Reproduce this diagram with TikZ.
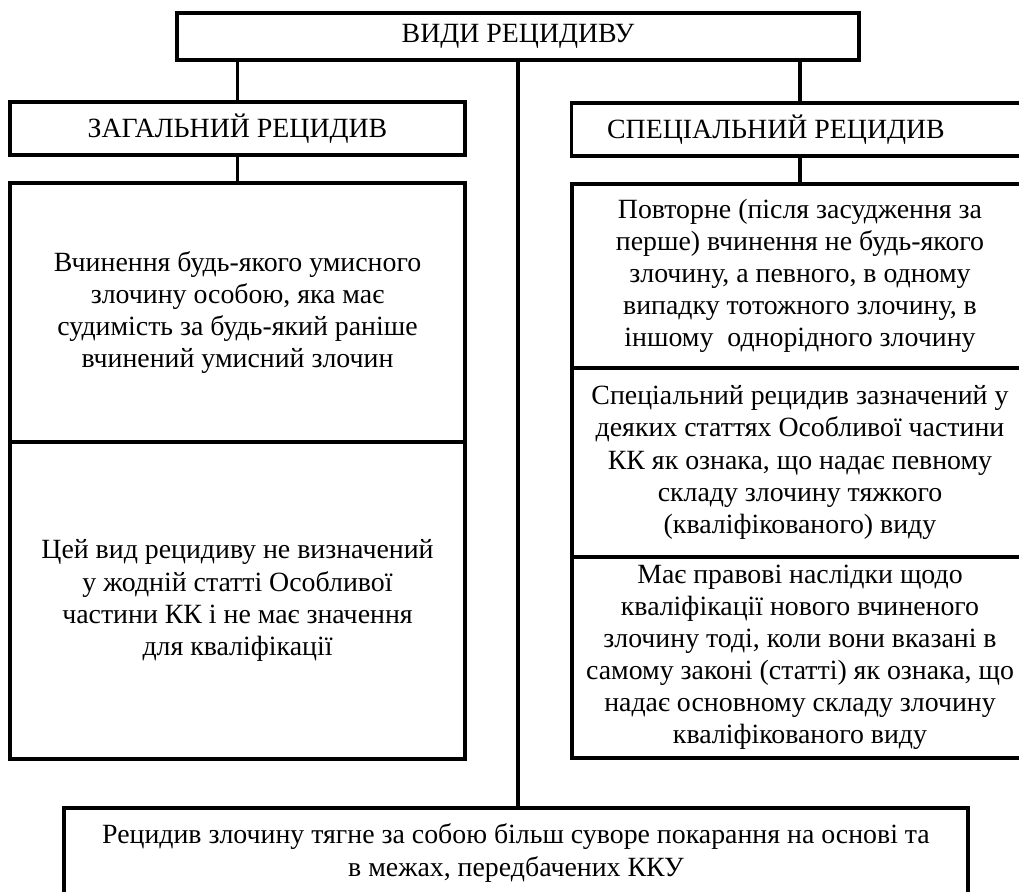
\documentclass[tikz,border=0pt]{standalone}
\usepackage{fontspec}
\setmainfont{Liberation Serif}
\usetikzlibrary{positioning}

\begin{document}
\begin{tikzpicture}[x=0.025cm,y=-0.025cm,
    box/.style={draw,line width=2.4pt,rectangle,inner sep=0pt,outer sep=0pt,align=center,font=\fontsize{19.8}{22.8}\selectfont},
    link/.style={line width=2.4pt}]
          \useasboundingbox (0,0) rectangle (1019,892);
          \clip (0,0) rectangle (1019,892);
          % header row
          \node [box,minimum width=17.05cm,minimum height=1.175cm] (vid) at (518,36.5) {ВИДИ РЕЦИДИВУ};
          \node [box,minimum width=11.375cm,minimum height=1.325cm] (zag) at (237.5,128.5) {ЗАГАЛЬНИЙ РЕЦИДИВ};
          \node [box,minimum width=11.425cm,minimum height=1.325cm] (spec) at (800,129.5) {СПЕЦІАЛЬНИЙ РЕЦИДИВ\hspace*{1.2cm}};
          % left column
          \node [box,minimum width=11.375cm,minimum height=6.475cm] (zagA) at (237.5,312.5) {Вчинення будь-якого умисного\\злочину особою, яка має\\судимість за будь-який раніше\\вчинений умисний злочин};
          \node [box,minimum width=11.375cm,minimum height=7.925cm] (zagB) at (237.5,600.5) {Цей вид рецидиву не визначений\\у жодній статті Особливої\\частини КК і не має значення\\для кваліфікації};
          % right column
          \node [box,minimum width=11.4cm,minimum height=4.6cm] (specA) at (800,276) {Повторне (після засудження за\\перше) вчинення не будь-якого\\злочину, а певного, в одному\\випадку тотожного злочину, в\\іншому\ \ однорідного злочину};
          \node [box,minimum width=11.4cm,minimum height=4.725cm] (specB) at (800,462.5) {Спеціальний рецидив зазначений у\\деяких статтях Особливої частини\\КК як ознака, що надає певному\\складу злочину тяжкого\\(кваліфікованого) виду};
          \node [box,minimum width=11.4cm,minimum height=5.025cm] (specC) at (800,657.5) {Має правові наслідки щодо\\кваліфікації нового вчиненого\\злочину тоді, коли вони вказані в\\самому законі (статті) як ознака, що\\надає основному складу злочину\\кваліфікованого виду};
          % result
          \node [box,minimum width=22.6cm,minimum height=2.25cm] (naslidok) at (516,853) {Рецидив злочину тягне за собою більш суворе покарання на основі та\\в межах, передбачених ККУ};
          % connectors
          \draw [link] (zag.north) -- (zag.north |- vid.south);
          \draw [link] (spec.north) -- (spec.north |- vid.south);
          \draw [link] (vid.south) -- (vid.south |- naslidok.north);
          \draw [link] (zag.south) -- (zagA.north);
          \draw [link] (spec.south) -- (specA.north);
      \end{tikzpicture}
\end{document}
